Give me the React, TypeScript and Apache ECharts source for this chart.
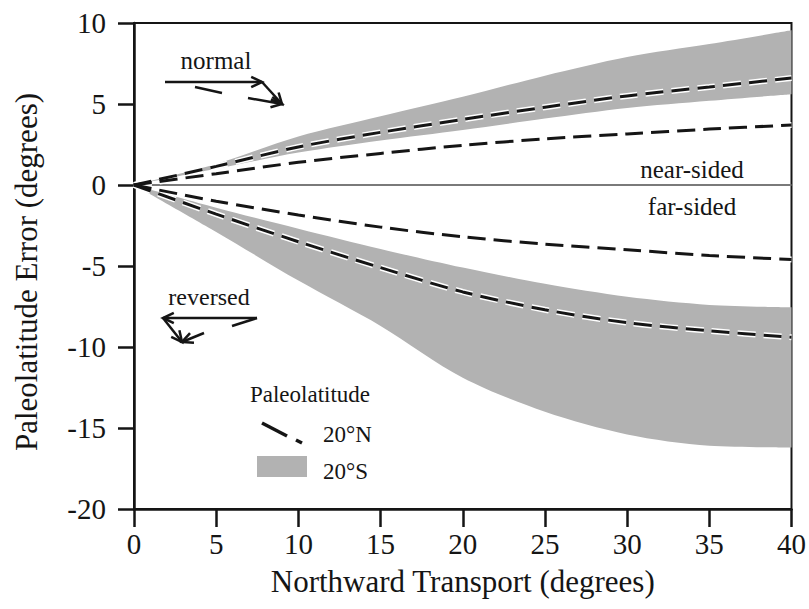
import React, { useEffect, useRef } from "react";
import * as echarts from "echarts";

// Northward transport (degrees)
const transportX = ["0", "5", "10", "15", "20", "25", "30", "35", "40"];
const yTicks = ["-20", "-15", "-10", "-5", "0", "5", "10"];

// 20°N curves (dashed)
const north20A = [0, 1.15, 2.35, 3.25, 4.05, 4.8, 5.5, 6.05, 6.6];
const north20B = [0, 0.7, 1.4, 1.95, 2.45, 2.85, 3.15, 3.45, 3.7];
const north20C = [0, -1.0, -1.85, -2.6, -3.2, -3.65, -4.0, -4.35, -4.6];
const north20D = [0, -1.8, -3.5, -5.1, -6.6, -7.7, -8.5, -9.0, -9.4];

// 20°S envelopes (grey bands)
const south20NormalLow = [0, 1.0, 2.0, 2.75, 3.4, 4.1, 4.75, 5.2, 5.6];
const south20NormalHigh = [0, 1.3, 3.0, 4.25, 5.45, 6.75, 7.9, 8.7, 9.55];
const south20ReversedHigh = [0, -1.4, -2.7, -3.95, -5.1, -6.1, -6.9, -7.4, -7.55];
const south20ReversedLow = [0, -2.9, -5.9, -8.7, -11.9, -14.0, -15.4, -16.1, -16.2];

// near-sided / far-sided boundary
const zeroLine = [0, 0, 0, 0, 0, 0, 0, 0, 0];

const FONT = "'Liberation Serif', 'Times New Roman', 'DejaVu Serif', serif";
const GREY = "#b2b2b2";
const INK = "#151515";

function arrowHead(tx: number, ty: number, fx: number, fy: number, len = 12, ang = 0.45) {
  const a = Math.atan2(fy - ty, fx - tx);
  return {
    type: "polyline",
    shape: {
      points: [
        [tx + len * Math.cos(a + ang), ty + len * Math.sin(a + ang)],
        [tx, ty],
        [tx + len * Math.cos(a - ang), ty + len * Math.sin(a - ang)],
      ],
    },
    style: { stroke: INK, lineWidth: 2.5, fill: null },
    silent: true,
  };
}

function seg(x1: number, y1: number, x2: number, y2: number, w = 2.5) {
  return {
    type: "line",
    shape: { x1, y1, x2, y2 },
    style: { stroke: INK, lineWidth: w },
    silent: true,
  };
}

function label(text: string, x: number, y: number, size = 25, align = "center") {
  return {
    type: "text",
    x,
    y,
    style: {
      text,
      fontSize: size,
      fontFamily: FONT,
      fill: INK,
      align,
      verticalAlign: "middle",
    },
    silent: true,
  };
}

export default function App() {
  const ref = useRef<HTMLDivElement>(null);

  useEffect(() => {
    if (!ref.current) return;
    const chart = echarts.init(ref.current, null, { renderer: "svg" });

    const band = (name: string, stack: string, low: number[], high: number[]) => [
      {
        name: name + " base",
        type: "line",
        stack,
        stackStrategy: "all",
        data: low,
        smooth: 0.3,
        showSymbol: false,
        lineStyle: { opacity: 0, width: 0 },
        silent: true,
        z: 1,
      },
      {
        name,
        type: "line",
        stack,
        stackStrategy: "all",
        data: high.map((h, i) => +(h - low[i]).toFixed(3)),
        smooth: 0.3,
        showSymbol: false,
        lineStyle: { opacity: 0, width: 0 },
        areaStyle: { color: GREY, opacity: 1 },
        silent: true,
        z: 1,
      },
    ];

    const dashed = (ys: number[]) => [
      {
        name: "20°N halo",
        type: "line",
        data: ys,
        smooth: 0.3,
        showSymbol: false,
        lineStyle: { color: "#ffffff", width: 6, type: [18, 8] },
        silent: true,
        z: 3,
      },
      {
        name: "20°N",
        type: "line",
        data: ys,
        smooth: 0.3,
        showSymbol: false,
        lineStyle: { color: INK, width: 3, type: [18, 8] },
        silent: true,
        z: 4,
      },
    ];

    const option: any = {
      animation: false,
      backgroundColor: "#ffffff",
      textStyle: { fontFamily: FONT },
      grid: {
        left: 134,
        right: 16,
        top: 23,
        bottom: 100,
        show: true,
        borderColor: INK,
        borderWidth: 2,
        backgroundColor: "transparent",
      },
      xAxis: {
        type: "category",
        data: transportX,
        boundaryGap: false,
        name: "Northward Transport (degrees)",
        nameLocation: "middle",
        nameGap: 57,
        nameTextStyle: { fontFamily: FONT, fontSize: 31, color: INK },
        axisLine: { show: true, onZero: false, lineStyle: { color: INK, width: 2.5 } },
        axisTick: { show: true, inside: false, length: 18, lineStyle: { color: INK, width: 2.5 } },
        axisLabel: {
          margin: 20,
          fontFamily: FONT,
          fontSize: 29,
          color: INK,
          interval: 0,
        },
        splitLine: { show: false },
      },
      yAxis: {
        type: "value",
        min: -20,
        max: 10,
        interval: 5,
        name: "Paleolatitude Error (degrees)",
        nameLocation: "middle",
        nameGap: 92,
        nameTextStyle: { fontFamily: FONT, fontSize: 31, color: INK, padding: [0, 12, 0, 0] },
        axisLine: { show: true, onZero: false, lineStyle: { color: INK, width: 2.5 } },
        axisTick: { show: true, inside: false, length: 16, lineStyle: { color: INK, width: 2.5 } },
        axisLabel: {
          margin: 28,
          fontFamily: FONT,
          fontSize: 29,
          color: INK,
          formatter: (v: number) => yTicks[Math.round((v + 20) / 5)] ?? String(v),
        },
        splitLine: { show: false },
      },
      series: [
        ...band("20°S", "bandNormal", south20NormalLow, south20NormalHigh),
        ...band("20°S", "bandReversed", south20ReversedLow, south20ReversedHigh),
        {
          name: "zero",
          type: "line",
          data: zeroLine,
          showSymbol: false,
          lineStyle: { color: "#7a7a7a", width: 2 },
          silent: true,
          z: 2,
        },
        ...dashed(north20A),
        ...dashed(north20B),
        ...dashed(north20C),
        ...dashed(north20D),
      ],
      graphic: [
        // "normal" sketch
        label("normal", 216, 60),
        seg(165, 82, 262, 82),
        arrowHead(262, 82, 165, 82),
        seg(262, 82, 282, 104),
        arrowHead(282, 104, 262, 82),
        seg(248, 98, 282, 104),
        arrowHead(282, 104, 248, 98),
        seg(195, 87, 222, 93),
        // "reversed" sketch
        label("reversed", 209, 297, 24),
        seg(163, 318, 257, 318),
        arrowHead(163, 318, 257, 318),
        seg(232, 326, 257, 318),
        seg(163, 318, 182, 342),
        arrowHead(182, 342, 163, 318),
        seg(204, 333, 182, 342),
        arrowHead(182, 342, 204, 333),
        // side labels
        label("near-sided", 692, 169, 25),
        label("far-sided", 692, 206, 25),
        // legend
        label("Paleolatitude", 310, 394, 23),
        seg(262, 423, 287, 436, 3.5),
        seg(296, 440, 302, 443, 3.5),
        label("20°N", 323, 434, 23, "left"),
        {
          type: "rect",
          shape: { x: 257, y: 456, width: 50, height: 21 },
          style: { fill: GREY },
          silent: true,
        },
        label("20°S", 323, 471, 23, "left"),
      ],
    };

    chart.setOption(option);
    return () => chart.dispose();
  }, []);

  return (
    <div
      ref={ref}
      style={{ position: "fixed", left: 0, top: 0, width: 809, height: 609, background: "#fff" }}
    />
  );
}
